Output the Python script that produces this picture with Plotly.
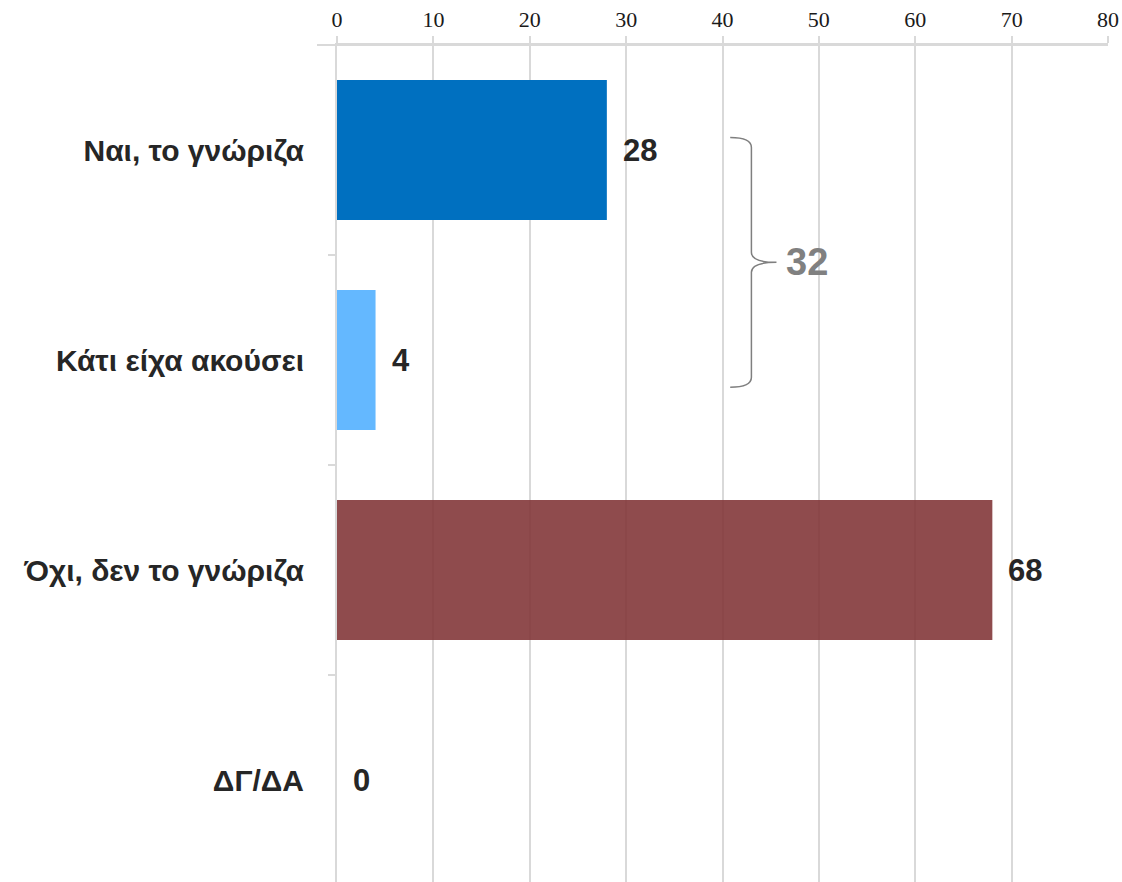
import plotly.graph_objects as go

categories = ["Ναι, το γνώριζα", "Κάτι είχα ακούσει", "Όχι, δεν το γνώριζα", "ΔΓ/ΔΑ"]
values = [28, 4, 68, 0]
bar_colors = ["#0070C0", "#64B8FF", "rgba(128,50,52,0.88)", "#A6A6A6"]
x_ticks = [0, 10, 20, 30, 40, 50, 60, 70, 80]
brace_total = 32
brace_group = [0, 1]  # indices of categories spanned by the brace

W, H = 1122, 882
ML, MR, MT, MB = 337, 14, 45, 0
plot_h = H - MT - MB
band = 210.0
y_lo = -0.5
y_hi = -0.5 + plot_h / band

def idx_to_paper(i):
    return 1 - (i - y_lo) / (y_hi - y_lo)

label_font = "Liberation Sans Narrow, Arial Narrow, Liberation Sans, Arial, sans-serif"

fig = go.Figure()
fig.add_trace(go.Bar(
    x=values, y=categories, orientation="h",
    marker=dict(color=bar_colors, line=dict(width=0)),
    width=0.667, hoverinfo="skip",
))

for c, v in zip(categories, values):
    fig.add_annotation(x=v, y=c, xref="x", yref="y", text=f"<b>{v}</b>",
                       showarrow=False, xanchor="left", yanchor="middle", xshift=14,
                       font=dict(family=label_font, size=31, color="#262626"))

# brace
xb0, xb1, xb2 = 40.8, 43.0, 45.6
yt = idx_to_paper(brace_group[0] - 0.06)
yb = idx_to_paper(brace_group[-1] + 0.13)
ym = (yt + yb) / 2
d = 10 / plot_h
path = (f"M {xb0},{yt} Q {xb1},{yt} {xb1},{yt-d} "
        f"L {xb1},{ym+d} Q {xb1},{ym} {xb2},{ym} "
        f"Q {xb1},{ym} {xb1},{ym-d} "
        f"L {xb1},{yb+d} Q {xb1},{yb} {xb0},{yb}")
fig.add_shape(type="path", path=path, xref="x", yref="paper",
              line=dict(color="#7F7F7F", width=1.5))
fig.add_annotation(x=xb2, y=ym, xref="x", yref="paper", text=f"<b>{brace_total}</b>",
                   showarrow=False, xanchor="left", yanchor="middle", xshift=8,
                   font=dict(family=label_font, size=38, color="#808080"))

# extend top axis line slightly to the left
fig.add_shape(type="line", xref="paper", yref="paper",
              x0=-20 / (W - ML - MR), x1=1, y0=1, y1=1,
              line=dict(color="#D9D9D9", width=2))

fig.update_layout(
    width=W, height=H,
    margin=dict(l=ML, r=MR, t=MT, b=MB, pad=0, autoexpand=False),
    plot_bgcolor="white", paper_bgcolor="white",
    showlegend=False,
    xaxis=dict(
        side="top", range=[0, 80], tickvals=x_ticks, ticktext=[str(t) for t in x_ticks],
        showgrid=True, gridcolor="#D9D9D9", gridwidth=1.5,
        zeroline=False, showline=True, linecolor="#D9D9D9", linewidth=2,
        ticks="outside", ticklen=7, tickcolor="#D9D9D9", tickwidth=1.5,
        tickfont=dict(family="Liberation Serif, DejaVu Serif, serif", size=22, color="#1a1a1a"),
        automargin=False, fixedrange=True,
    ),
    yaxis=dict(
        type="category", categoryorder="array", categoryarray=categories,
        range=[y_hi, y_lo],
        showgrid=False, zeroline=False,
        showline=True, linecolor="#D9D9D9", linewidth=2,
        ticks="outside", tickson="boundaries", ticklen=7, tickcolor="#D9D9D9", tickwidth=2,
        ticklabelstandoff=25,
        tickfont=dict(family=label_font, size=30, color="#262626"),
        tickprefix="<b>", ticksuffix="</b>",
        automargin=False, fixedrange=True,
    ),
)

fig.write_html(
    "out.html",
    config={"displayModeBar": False},
    post_script="document.body.style.margin='0';document.body.style.overflow='hidden';",
)
